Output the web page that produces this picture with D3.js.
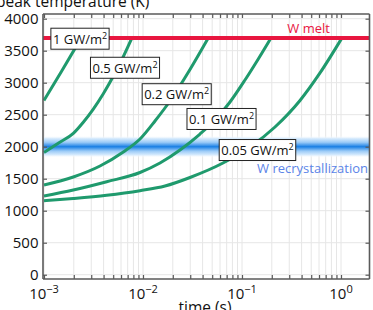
<!DOCTYPE html>
<html><head><meta charset="utf-8">
<script src="https://cdn.jsdelivr.net/npm/d3@7"></script>
<style>
body{margin:0;background:#fff}
svg{display:block;font-family:"Open Sans",sans-serif}
</style>
</head><body>
<svg id="chart" width="373" height="310"></svg>
<script>
// ---- data ----
const seriesNames = ["1 GW/m", "0.5 GW/m", "0.2 GW/m", "0.1 GW/m", "0.05 GW/m"];
const time_1GW   = [0.001, 0.0015, 0.00238];
const temp_1GW   = [2722, 3175, 3700];
const time_05GW  = [0.001, 0.001405, 0.001977, 0.002494, 0.003148, 0.003972, 0.005012, 0.006324, 0.007745];
const temp_05GW  = [1909, 2059, 2209, 2383, 2588, 2828, 3100, 3406, 3700];
const time_02GW  = [0.001, 0.001977, 0.003678, 0.006324, 0.009326, 0.01322, 0.01874, 0.02983, 0.04568];
const temp_02GW  = [1402, 1527, 1698, 1917, 2120, 2402, 2714, 3206, 3700];
const time_01GW  = [0.001, 0.001977, 0.0043, 0.009326, 0.01485, 0.02364, 0.03764, 0.05337, 0.07565, 0.1072, 0.145, 0.1963];
const temp_01GW  = [1230, 1323, 1453, 1597, 1745, 1948, 2198, 2417, 2698, 3042, 3363, 3700];
const time_005GW = [0.001, 0.001977, 0.0043, 0.009326, 0.01668, 0.02983, 0.06428, 0.1204, 0.2154, 0.3854, 0.6135, 1.0235];
const temp_005GW = [1156, 1191, 1241, 1313, 1386, 1519, 1745, 1995, 2308, 2722, 3152, 3700];
// label anchor (box centre) in data units
const labelTime = [0.00231, 0.00658, 0.0219, 0.0621, 0.1433];
const labelTemp = [3687, 3233, 2820, 2433, 1948];
const meltTemp = 3700, recrystTemp = 2000;
const yTickValues = [0, 500, 1000, 1500, 2000, 2500, 3000, 3500, 4000];
const xMajorTicks = [0.001, 0.01, 0.1, 1];
const xTickExponents = ["-3", "-2", "-1", "0"];
const yTitle = "peak temperature (K)", xTitle = "time (s)";
const meltLabel = "W melt", recrystLabel = "W recrystallization";

const times = [time_1GW, time_05GW, time_02GW, time_01GW, time_005GW];
const temps = [temp_1GW, temp_05GW, temp_02GW, temp_01GW, temp_005GW];

// ---- layout ----
const svg = d3.select("#chart");
const L = 43, R = 369.5, T = 14, B = 279;
const x = d3.scaleLog().domain([0.000977, 1.94]).range([L, R]);
const y = d3.scaleLinear().domain([-67, 4073]).range([B, T]);

svg.append("rect").attr("width", 373).attr("height", 310).attr("fill", "#fff");

// minor ticks list
const xMinor = [];
[0.001, 0.01, 0.1, 1].forEach(d => { for (let k = 2; k <= 9; k++) { const v = d * k; if (v <= 1.94) xMinor.push(v); } });
const xAll = xMajorTicks.concat(xMinor);

// grid
const grid = svg.append("g");
grid.selectAll("line.vx").data(xAll).join("line")
  .attr("x1", d => x(d)).attr("x2", d => x(d)).attr("y1", T).attr("y2", B)
  .attr("stroke", "#e6e6e6").attr("stroke-width", 1);
grid.selectAll("line.hy").data(yTickValues).join("line")
  .attr("x1", L).attr("x2", R).attr("y1", d => y(d)).attr("y2", d => y(d))
  .attr("stroke", "#e6e6e6").attr("stroke-width", 1);

// recrystallization band
const defs = svg.append("defs");
const grad = defs.append("linearGradient").attr("id", "band").attr("x1", 0).attr("x2", 0).attr("y1", 0).attr("y2", 1);
[[0, "#ffffff", 0], [0.12, "#d9ecfd", 1], [0.3, "#9ccbf7", 1], [0.45, "#3b93ea", 1], [0.5, "#1a7fe4", 1],
 [0.55, "#3b93ea", 1], [0.7, "#9ccbf7", 1], [0.88, "#d9ecfd", 1], [1, "#ffffff", 0]]
  .forEach(s => grad.append("stop").attr("offset", s[0]).attr("stop-color", s[1]).attr("stop-opacity", s[2]));
svg.append("rect").attr("x", L).attr("width", R - L)
  .attr("y", y(recrystTemp) - 11).attr("height", 22).attr("fill", "url(#band)");

// curves
const line = d3.line().x(d => x(d[0])).y(d => y(d[1])).curve(d3.curveMonotoneX);
times.forEach((ts, i) => {
  svg.append("path").datum(ts.map((t, j) => [t, temps[i][j]]))
    .attr("d", line).attr("fill", "none").attr("stroke", "#1f9a6d").attr("stroke-width", 3)
    .attr("stroke-linecap", "butt");
});

// melt line
svg.append("line").attr("x1", L).attr("x2", R).attr("y1", y(meltTemp)).attr("y2", y(meltTemp))
  .attr("stroke", "#e8163f").attr("stroke-width", 4);
svg.append("text").attr("x", 330).attr("y", y(meltTemp) - 4.5).attr("text-anchor", "end")
  .attr("font-size", 13).attr("fill", "#e8163f").text(meltLabel);
svg.append("text").attr("x", 368).attr("y", y(recrystTemp) + 26).attr("text-anchor", "end")
  .attr("font-size", 13).attr("fill", "#5b84e8").text(recrystLabel);

// label boxes
seriesNames.forEach((name, i) => {
  const g = svg.append("g");
  const txt = g.append("text").attr("font-size", 13).attr("fill", "#111");
  txt.append("tspan").text(name);
  txt.append("tspan").attr("font-size", 9).attr("dy", -5).text("2");
  const w = txt.node().getComputedTextLength();
  const cx = x(labelTime[i]), cy = y(labelTemp[i]);
  const bw = w + 4, bh = 21;
  g.insert("rect", "text").attr("x", cx - bw / 2).attr("y", cy - bh / 2).attr("width", bw).attr("height", bh)
    .attr("fill", "#fff").attr("stroke", "#222").attr("stroke-width", 1);
  txt.attr("x", cx - w / 2).attr("y", cy + 5);
});

// axes
const axisColor = "#5a5a5a";
const gL = svg.append("g").attr("transform", `translate(${L},0)`)
  .call(d3.axisLeft(y).tickValues(yTickValues).tickSize(-4).tickPadding(4.5).tickFormat(d3.format("d")));
const gR = svg.append("g").attr("transform", `translate(${R},0)`)
  .call(d3.axisRight(y).tickValues(yTickValues).tickSize(-4).tickFormat(""));
const gB = svg.append("g").attr("transform", `translate(0,${B})`)
  .call(d3.axisBottom(x).tickValues(xAll).tickSize(-4).tickFormat(""));
const gT = svg.append("g").attr("transform", `translate(0,${T})`)
  .call(d3.axisTop(x).tickValues(xAll).tickSize(-4).tickFormat(""));
[gL, gR, gB, gT].forEach(g => {
  g.select(".domain").attr("stroke", axisColor).attr("stroke-width", 1.6);
  g.selectAll(".tick line").attr("stroke", axisColor).attr("stroke-width", 1.2);
});
gL.selectAll("text").attr("font-size", 15).attr("fill", "#111").attr("font-family", "Open Sans");
gL.select(".domain").attr("d", `M0,${B}V${T}`);
gR.select(".domain").attr("d", `M0,${B}V${T}`);
gB.select(".domain").attr("d", `M${L},0H${R}`);
gT.select(".domain").attr("d", `M${L},0H${R}`);

// x tick labels with superscripts
xMajorTicks.forEach((v, i) => {
  const t = svg.append("text").attr("x", x(v)).attr("y", 298.5).attr("text-anchor", "middle")
    .attr("font-size", 15).attr("fill", "#111");
  t.append("tspan").text("10");
  t.append("tspan").attr("font-size", 11).attr("dy", -6).text(xTickExponents[i].replace("-", "\u2212"));
});

// titles
svg.append("text").attr("x", -4).attr("y", 7).attr("font-size", 15.5).attr("fill", "#111").text(yTitle);
svg.append("text").attr("x", 205).attr("y", 313).attr("text-anchor", "middle").attr("font-size", 15.5)
  .attr("fill", "#111").text(xTitle);
</script>
</body></html>
